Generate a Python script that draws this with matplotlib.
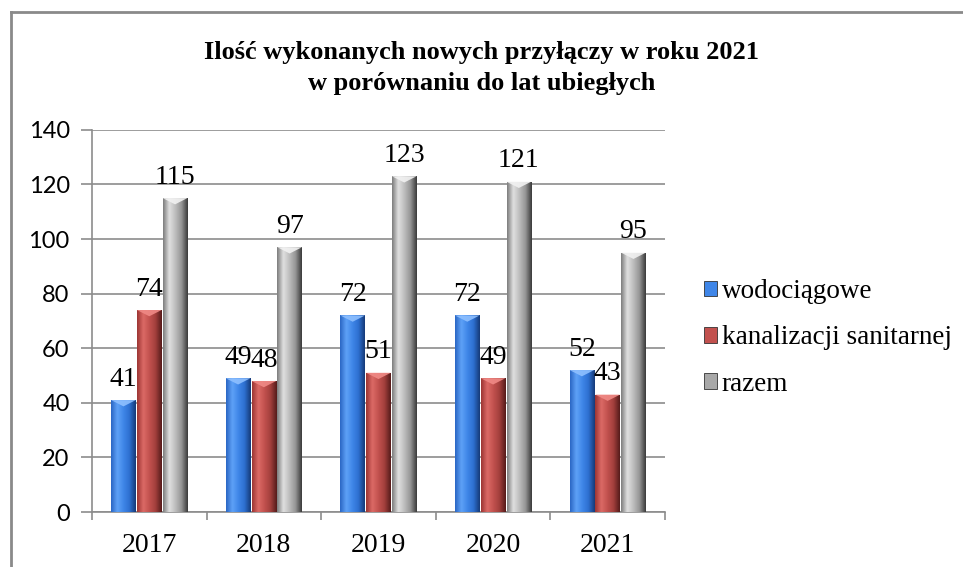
import numpy as np
import matplotlib.pyplot as plt
from matplotlib.colors import LinearSegmentedColormap
from matplotlib.patches import Polygon, Patch
from matplotlib.lines import Line2D

lata = ['2017', '2018', '2019', '2020', '2021']
wodociagowe = [41, 49, 72, 72, 52]
kanalizacji = [74, 48, 51, 49, 43]
razem = [115, 97, 123, 121, 95]
nazwy = ['wodociągowe', 'kanalizacji sanitarnej', 'razem']

# kolory: lewa krawedz, jasny pas, srodek, prawa strona, cien
gradienty = [
    ['#2a66c4', '#5fa2f7', '#3f86e8', '#2d6fd0', '#163a78'],
    ['#9c3533', '#dc6a66', '#c2514e', '#a23f3c', '#551b1a'],
    ['#7d7d7d', '#e0e0e0', '#bdbdbd', '#959595', '#3a3a3a'],
]
szczyty = ['#8fc0ff', '#f08a86', '#f2f2f2']
legenda_kolory = ['#3f86e8', '#c2514e', '#a8a8a8']

serif = 'Liberation Serif'
sans = 'Lato'

fig = plt.figure(figsize=(9.63, 5.67), dpi=100)
ax = fig.add_axes([0.0955, 0.097, 0.595, 0.674])

x = np.arange(len(lata))
szer = 0.215
przes = [-0.225, 0.0, 0.225]
serie = [wodociagowe, kanalizacji, razem]

for i, dane in enumerate(serie):
    cmap = LinearSegmentedColormap.from_list('g%d' % i, gradienty[i])
    grad = np.linspace(0, 1, 64).reshape(1, -1)
    bary = ax.bar(x + przes[i], dane, szer, color='none', edgecolor='none', zorder=3)
    for b, v in zip(bary, dane):
        x0, w = b.get_x(), b.get_width()
        im = ax.imshow(grad, extent=(x0, x0 + w, 0, v), aspect='auto',
                       cmap=cmap, zorder=3, interpolation='bicubic')
        im.set_clip_path(b)
        # faza na szczycie slupka
        d = 2.3
        ax.add_patch(Polygon([(x0, v), (x0 + w, v), (x0 + w / 2, v - d)],
                             closed=True, facecolor=szczyty[i],
                             edgecolor='none', alpha=0.9, zorder=4))
        ax.annotate(str(v), (x0 + w / 2, v), xytext=(0, 6), textcoords='offset points',
                    ha='center', va='bottom', fontsize=20, family=serif, zorder=5)

ax.set_xlim(-0.5, len(lata) - 0.5)
ax.set_ylim(0, 140)
ax.set_yticks(range(0, 141, 20))
ax.grid(axis='y', color='#8c8c8c', linewidth=1.2, zorder=0)
ax.set_axisbelow(True)

ax.set_xticks(x)
ax.set_xticklabels(lata, fontsize=20, family=serif)
ax.set_xticks(np.arange(-0.5, len(lata)), minor=True)
ax.tick_params(axis='x', which='major', length=0, pad=15)
ax.tick_params(axis='x', which='minor', length=6, color='#8c8c8c', width=1.2)
ax.tick_params(axis='y', length=8, color='#8c8c8c', width=1.2, pad=8)
for t in ax.get_yticklabels():
    t.set_fontsize(17)
    t.set_family(sans)

for s in ['top', 'right']:
    ax.spines[s].set_visible(False)
for s in ['left', 'bottom']:
    ax.spines[s].set_color('#8c8c8c')
    ax.spines[s].set_linewidth(1.2)

fig.text(0.5, 0.908, 'Ilość wykonanych nowych przyłączy w roku 2021',
         ha='center', va='center', fontsize=19, fontweight='bold', family=serif)
fig.text(0.5, 0.853, 'w porównaniu do lat ubiegłych',
         ha='center', va='center', fontsize=19, fontweight='bold', family=serif)

uchwyty = [Patch(facecolor=c, edgecolor='#333333', linewidth=0.6) for c in legenda_kolory]
fig.legend(uchwyty, nazwy, loc='center left', bbox_to_anchor=(0.731, 0.404),
           frameon=False, prop={'family': serif, 'size': 19.5},
           handlelength=0.5, handleheight=0.5, handletextpad=0.15,
           labelspacing=0.78, borderaxespad=0, borderpad=0)

# ramka wykresu
fig.add_artist(Line2D([0.0115, 0.0115], [0.0, 0.979], color='#8a8a8a', linewidth=2))
fig.add_artist(Line2D([0.0115, 1.0], [0.979, 0.979], color='#8a8a8a', linewidth=2))

fig.savefig('out.png', dpi=100)
